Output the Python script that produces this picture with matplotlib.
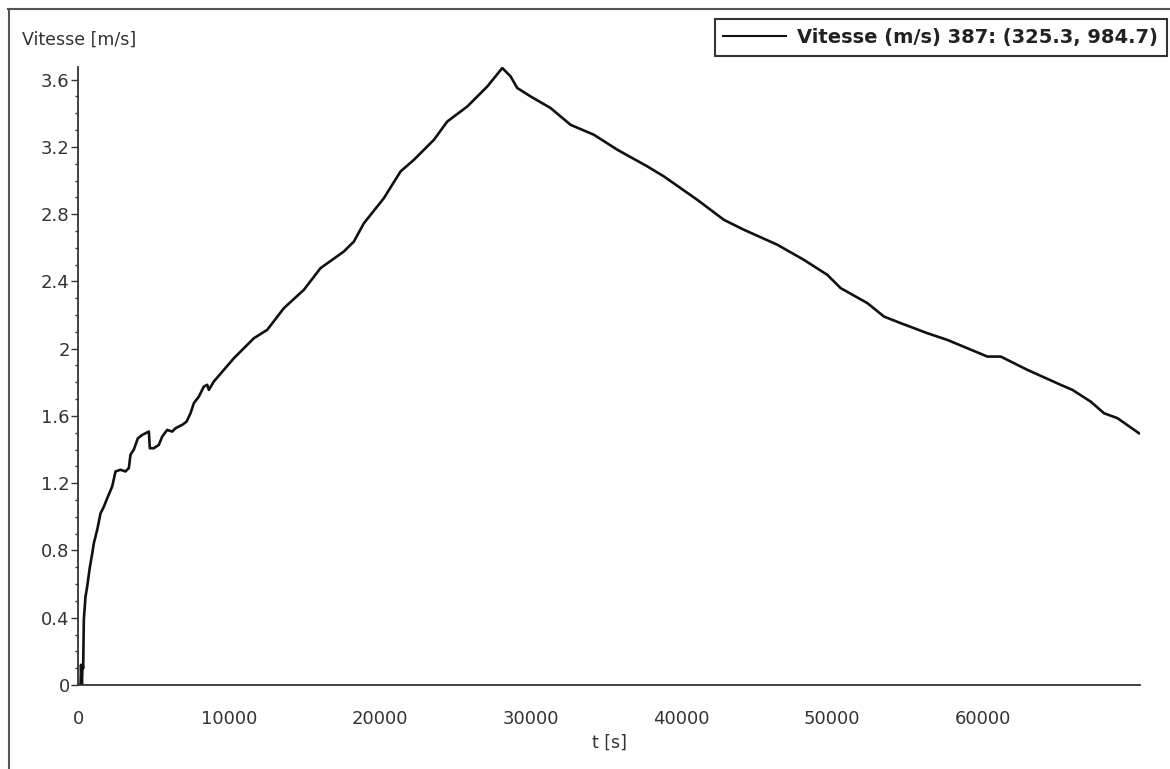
import matplotlib
matplotlib.use('Agg')
import matplotlib.pyplot as plt
from matplotlib.lines import Line2D
from matplotlib.ticker import MultipleLocator, FuncFormatter

# temps [s] et vitesse [m/s]
t_s = [0, 170, 200, 260, 300, 343, 387, 497, 608, 785, 940, 1050, 1271, 1492,
       1713, 1934, 2266, 2487, 2818, 3150, 3371, 3481, 3702, 3968, 4255, 4697,
       4763, 5029, 5360, 5581, 5913, 6245, 6466, 6908, 7195, 7460, 7681, 8013,
       8344, 8565, 8676, 9007, 10333, 11660, 12546, 13650, 14975, 16080, 17627,
       18290, 18955, 20280, 21386, 22270, 23597, 24483, 25809, 27135, 28130,
       28680, 29124, 30006, 31333, 32659, 34205, 35756, 37745, 38850, 41061,
       42826, 44153, 46366, 48130, 49680, 50564, 52334, 53435, 54540, 56313,
       57640, 60292, 61180, 62944, 65150, 65930, 67143, 68025, 68910, 70345]
vitesse = [0, 0, 0.12, 0.0, 0.12, 0.10, 0.39, 0.525, 0.585, 0.70, 0.78, 0.843,
           0.922, 1.02, 1.06, 1.11, 1.18, 1.27, 1.28, 1.27, 1.29, 1.37, 1.40,
           1.467, 1.487, 1.507, 1.408, 1.408, 1.428, 1.477, 1.517, 1.507, 1.527,
           1.547, 1.566, 1.616, 1.676, 1.715, 1.775, 1.785, 1.755, 1.805, 1.943,
           2.062, 2.112, 2.241, 2.35, 2.479, 2.578, 2.637, 2.746, 2.895, 3.054,
           3.123, 3.242, 3.351, 3.440, 3.559, 3.669, 3.619, 3.55, 3.50, 3.431,
           3.331, 3.272, 3.183, 3.084, 3.024, 2.885, 2.766, 2.707, 2.618, 2.528,
           2.439, 2.36, 2.271, 2.191, 2.152, 2.092, 2.052, 1.953, 1.953, 1.874,
           1.785, 1.755, 1.685, 1.616, 1.587, 1.497]

x_ticks = [0, 10000, 20000, 30000, 40000, 50000, 60000]
legend_label = 'Vitesse (m/s) 387: (325.3, 984.7)'

W, H = 1170, 769
TXT = '#333333'


def main():
    fig = plt.figure(figsize=(W / 100, H / 100), dpi=100)
    fig.patch.set_facecolor('white')

    # cadre de la fenêtre (coupé à droite et en bas)
    fig.add_artist(Line2D([8 / W, 1], [1 - 9 / H, 1 - 9 / H], color='#555555', lw=1.5))
    fig.add_artist(Line2D([9 / W, 9 / W], [0, 1 - 9 / H], color='#555555', lw=1.5))

    ax = fig.add_axes([78 / W, 1 - 685 / H, (1140 - 78) / W, (685 - 67) / H])
    line, = ax.plot(t_s, vitesse, color='#111111', lw=1.9)

    ax.set_xlim(0, 70410)
    ax.set_ylim(0, 3.675)

    for side in ('top', 'right'):
        ax.spines[side].set_visible(False)
    for side in ('left', 'bottom'):
        ax.spines[side].set_color('#333333')
        ax.spines[side].set_linewidth(1.3)

    ax.set_xticks(x_ticks)
    ax.set_xticklabels([str(v) for v in x_ticks])
    ax.yaxis.set_major_locator(MultipleLocator(0.4))
    ax.yaxis.set_minor_locator(MultipleLocator(0.1))
    ax.yaxis.set_major_formatter(FuncFormatter(lambda v, p: '{:g}'.format(round(v, 2))))

    ax.tick_params(axis='x', length=0, pad=18, labelsize=13, labelcolor=TXT)
    ax.tick_params(axis='y', which='major', direction='out', length=5, width=1,
                   color='#333333', pad=1, labelsize=13, labelcolor=TXT)
    ax.tick_params(axis='y', which='minor', direction='out', length=2, width=1,
                   color='#333333')

    ax.set_xlabel('t [s]', fontsize=12.5, color=TXT, labelpad=4)
    fig.text(22 / W, 1 - 40 / H, 'Vitesse [m/s]', fontsize=12.5, color=TXT,
             ha='left', va='center')

    leg = fig.legend([line], [legend_label], loc='upper right',
                     bbox_to_anchor=(1167 / W, 1 - 19 / H),
                     prop={'weight': 'bold', 'size': 14}, fancybox=False,
                     edgecolor='#333333', framealpha=1, handlelength=3.2,
                     handletextpad=0.6, borderpad=0.45, borderaxespad=0)
    leg.get_frame().set_linewidth(1.5)
    leg.get_lines()[0].set_linewidth(1.5)
    for txt in leg.get_texts():
        txt.set_color('#222222')

    fig.savefig('out.png', dpi=100)


if __name__ == "__main__":
    main()
